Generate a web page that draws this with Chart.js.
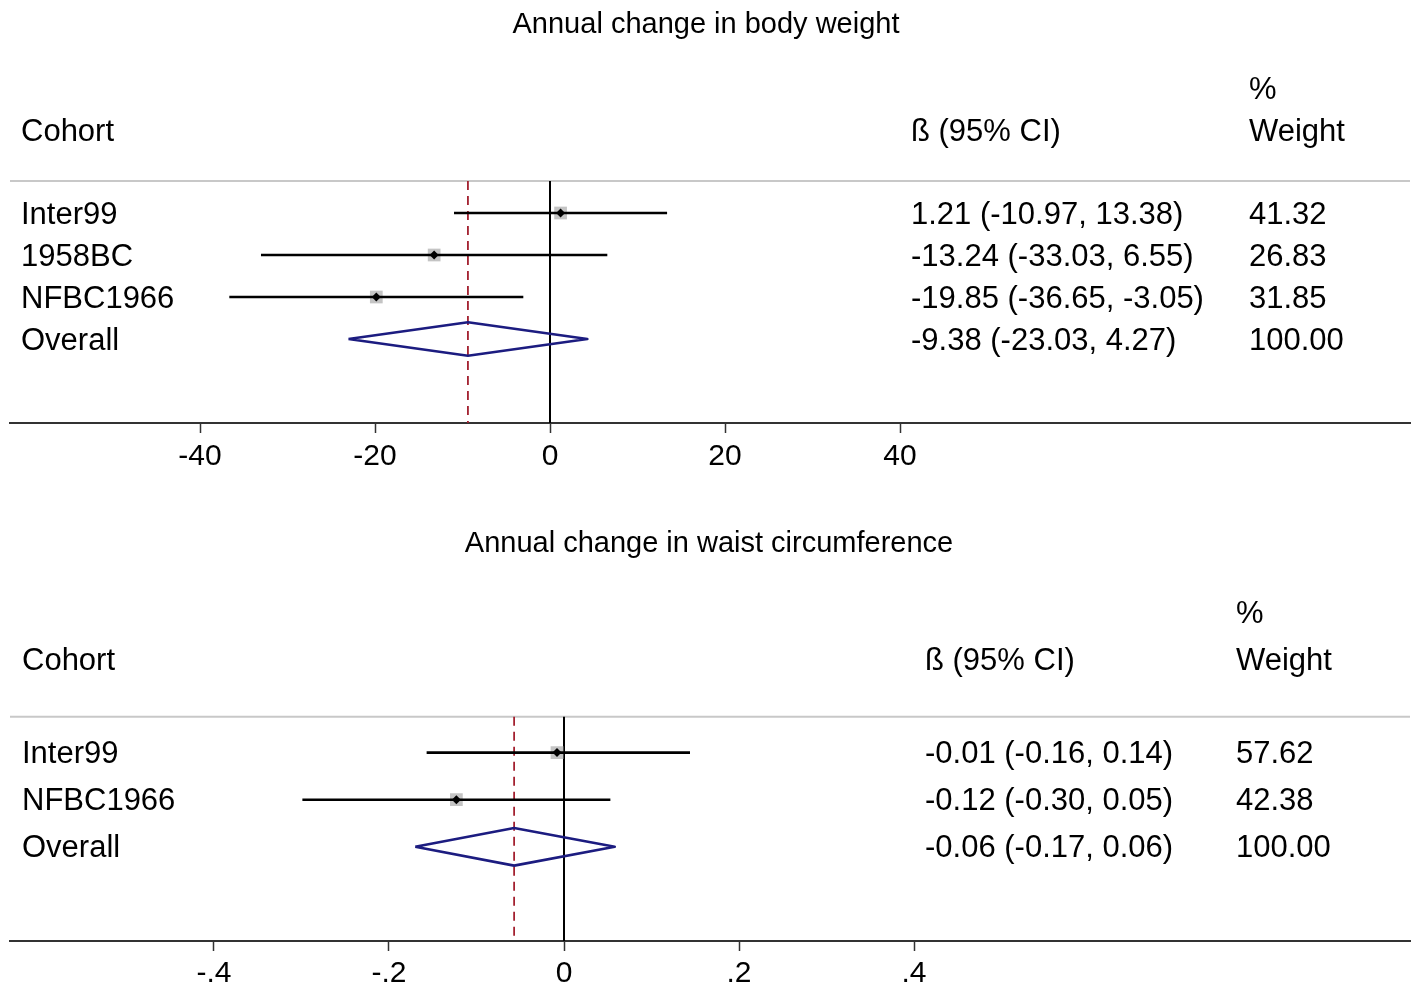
<!DOCTYPE html>
<html><head><meta charset="utf-8">
<script src="https://cdn.jsdelivr.net/npm/chart.js@4.4.1/dist/chart.umd.min.js"></script>
<style>
html,body{margin:0;padding:0;background:#fff;width:1413px;height:987px;overflow:hidden}
.wrap{position:absolute;left:0;width:1413px}
canvas{display:block}
</style></head><body>
<div class="wrap" style="top:0;height:493px"><canvas id="c1" width="1413" height="493"></canvas></div>
<div class="wrap" style="top:493px;height:494px"><canvas id="c2" width="1413" height="494"></canvas></div>
<script>
// ---------- Panel 1: body weight ----------
const title1 = 'Annual change in body weight';
const cohorts1 = ['Inter99', '1958BC', 'NFBC1966'];
const est1 = [1.21, -13.24, -19.85];
const lo1 = [-10.97, -33.03, -36.65];
const hi1 = [13.38, 6.55, -3.05];
const ciText1 = ['1.21 (-10.97, 13.38)', '-13.24 (-33.03, 6.55)', '-19.85 (-36.65, -3.05)'];
const weight1 = ['41.32', '26.83', '31.85'];
const overall1 = [-9.38, -23.03, 4.27];          // estimate, lower, upper
const overallCi1 = '-9.38 (-23.03, 4.27)';
const overallWeight1 = '100.00';
const ticks1 = [-40, -20, 0, 20, 40];
const tickLabels1 = ['-40', '-20', '0', '20', '40'];

// ---------- Panel 2: waist circumference ----------
const title2 = 'Annual change in waist circumference';
const cohorts2 = ['Inter99', 'NFBC1966'];
const est2 = [-0.008, -0.123];
const lo2 = [-0.157, -0.299];
const hi2 = [0.144, 0.053];
const ciText2 = ['-0.01 (-0.16, 0.14)', '-0.12 (-0.30, 0.05)'];
const weight2 = ['57.62', '42.38'];
const overall2 = [-0.057, -0.170, 0.058];
const overallCi2 = '-0.06 (-0.17, 0.06)';
const overallWeight2 = '100.00';
const ticks2 = [-0.4, -0.2, 0, 0.2, 0.4];
const tickLabels2 = ['-.4', '-.2', '0', '.2', '.4'];

const FONT = "'Liberation Sans', Arial, sans-serif";
const HEADER_Y = 0.24;

function buildDatasets(est, lo, hi, overall, nRows) {
  const ds = [];
  const oRow = est.length + 1;
  // header separator line
  ds.push({ data: [{x: -1e6, y: HEADER_Y}, {x: 1e6, y: HEADER_Y}], borderColor: '#c8c8c8', borderWidth: 2, order: 5 });
  // no-effect line
  ds.push({ data: [{x: 0, y: HEADER_Y}, {x: 0, y: nRows}], borderColor: '#000', borderWidth: 2, order: 4 });
  // overall estimate dashed line
  ds.push({ data: [{x: overall[0], y: HEADER_Y}, {x: overall[0], y: nRows}], borderColor: '#a3202f', borderWidth: 1.8, borderDash: [9, 6], order: 4 });
  // weight boxes
  ds.push({ data: est.map((v, i) => ({x: v, y: i + 1})), showLine: false, pointStyle: 'rect', pointRadius: 9, pointBackgroundColor: '#c4c4c4', pointBorderWidth: 0, order: 3 });
  // CI lines
  est.forEach((v, i) => {
    ds.push({ data: [{x: lo[i], y: i + 1}, {x: hi[i], y: i + 1}], borderColor: '#000', borderWidth: 2.6, order: 2 });
  });
  // point estimates
  ds.push({ data: est.map((v, i) => ({x: v, y: i + 1})), showLine: false, pointStyle: 'rectRot', pointRadius: 4.5, pointBackgroundColor: '#000', pointBorderWidth: 0, order: 1 });
  // overall diamond
  ds.push({ data: [
      {x: overall[1], y: oRow}, {x: overall[0], y: oRow - 0.4}, {x: overall[2], y: oRow},
      {x: overall[0], y: oRow + 0.4}, {x: overall[1], y: oRow}],
    borderColor: '#1c1c80', borderWidth: 2.6, borderJoinStyle: 'round', order: 1 });
  ds.forEach(d => {
    if (d.showLine === undefined) { d.showLine = true; d.pointRadius = 0; }
    d.tension = 0; d.fill = false;
    if (!d.borderJoinStyle) d.borderJoinStyle = 'miter';
  });
  return ds;
}

function textPlugin(p) {
  return {
    id: 'forestText',
    afterDraw(chart) {
      const ctx = chart.ctx;
      const ys = chart.scales.y;
      ctx.save();
      ctx.fillStyle = '#000';
      ctx.textBaseline = 'middle';
      ctx.font = '29px ' + FONT;
      ctx.textAlign = 'center';
      ctx.fillText(p.title, p.titleX, p.titleY);
      ctx.font = '31px ' + FONT;
      ctx.textAlign = 'left';
      ctx.fillText('Cohort', p.cohortX, p.headY);
      ctx.fillText('ß (95% CI)', p.ciX, p.headY);
      ctx.fillText('%', p.wX, p.pctY);
      ctx.fillText('Weight', p.wX, p.headY);
      const labels = p.cohorts.concat(['Overall']);
      const cis = p.ci.concat([p.overallCi]);
      const ws = p.weights.concat([p.overallWeight]);
      labels.forEach((lab, i) => {
        const y = ys.getPixelForValue(i + 1) + 2;
        ctx.fillText(lab, p.cohortX, y);
        ctx.fillText(cis[i], p.ciX, y);
        ctx.fillText(ws[i], p.wX, y);
      });
      ctx.restore();
    }
  };
}

function makeChart(id, cfg) {
  return new Chart(document.getElementById(id), {
    type: 'scatter',
    data: { datasets: buildDatasets(cfg.est, cfg.lo, cfg.hi, cfg.overall, cfg.nRows) },
    options: {
      responsive: false,
      animation: false,
      events: [],
      layout: { autoPadding: false, padding: { top: cfg.padTop, left: 10, right: 3, bottom: 0 } },
      plugins: { legend: { display: false }, tooltip: { enabled: false } },
      scales: {
        x: {
          type: 'linear', min: cfg.xmin, max: cfg.xmax,
          afterBuildTicks: s => { s.ticks = cfg.ticks.map(v => ({ value: v })); },
          afterFit: s => { s.height = cfg.axisH; s.paddingLeft = 0; s.paddingRight = 0; },
          grid: { drawOnChartArea: false, drawTicks: true, tickLength: 10, tickColor: '#333', tickWidth: 1.5 },
          border: { display: true, color: '#333', width: 2 },
          ticks: {
            autoSkip: false, maxRotation: 0, padding: cfg.tickPad,
            color: '#000', font: { family: FONT, size: 30 },
            callback: (v, i) => cfg.tickLabels[i]
          }
        },
        y: { type: 'linear', min: 0, max: cfg.nRows, reverse: true, display: false }
      }
    },
    plugins: [textPlugin(cfg.text)]
  });
}

makeChart('c1', {
  est: est1, lo: lo1, hi: hi1, overall: overall1, nRows: 6,
  xmin: -540 / 8.75, xmax: 860 / 8.75, ticks: ticks1, tickLabels: tickLabels1,
  padTop: 171, axisH: 70, tickPad: 6,
  text: { title: title1, titleX: 706, titleY: 25, cohortX: 21, ciX: 911, wX: 1249, headY: 132, pctY: 90,
          cohorts: cohorts1, ci: ciText1, weights: weight1, overallCi: overallCi1, overallWeight: overallWeight1 }
});

makeChart('c2', {
  est: est2, lo: lo2, hi: hi2, overall: overall2, nRows: 5,
  xmin: -554 / 875, xmax: 846 / 875, ticks: ticks2, tickLabels: tickLabels2,
  padTop: 212.5, axisH: 46, tickPad: 5,
  text: { title: title2, titleX: 709, titleY: 544 - 493, cohortX: 22, ciX: 925, wX: 1236, headY: 661 - 493, pctY: 614 - 493,
          cohorts: cohorts2, ci: ciText2, weights: weight2, overallCi: overallCi2, overallWeight: overallWeight2 }
});
</script>
</body></html>
